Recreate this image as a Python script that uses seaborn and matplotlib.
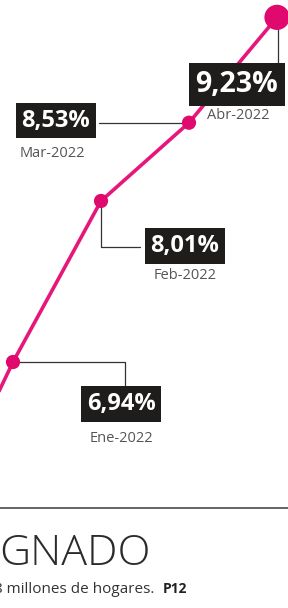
import numpy as np
import pandas as pd
import matplotlib.pyplot as plt
import seaborn as sns

# Data (percent), Dic-2021 point lies off the visible crop
months = ["Dic-2021", "Ene-2022", "Feb-2022", "Mar-2022", "Abr-2022"]
values = [5.72, 6.94, 8.01, 8.53, 9.23]
labels = ["", "6,94%", "8,01%", "8,53%", "9,23%"]

df = pd.DataFrame({"idx": np.arange(len(months)) - 1, "mes": months, "valor": values})

sns.set_style("white")
plt.rcParams["font.family"] = ["Open Sans", "DejaVu Sans"]

PINK = "#e6177b"
DOT = "#e00a6e"
BOX = "#1f1c1c"
LINE = "#333333"

fig = plt.figure(figsize=(2.88, 6.08), dpi=100)
ax = fig.add_axes([0, 0, 1, 1])
ax.set_xlim(-13 / 88, 275 / 88)
ax.set_ylim(6.94 - 246 / 150.5, 6.94 + 362 / 150.5)
ax.axis("off")

sns.lineplot(data=df, x="idx", y="valor", color=PINK, linewidth=2.6, ax=ax,
             zorder=2, clip_on=True)
sns.scatterplot(data=df.iloc[:-1], x="idx", y="valor", color=DOT, s=105,
                edgecolor="none", ax=ax, zorder=3)
sns.scatterplot(data=df.iloc[-1:], x="idx", y="valor", color=DOT, s=330,
                edgecolor="none", ax=ax, zorder=3)


def off(x, y, dx, dy):
    # pixel offset -> data coords
    px = ax.transData.transform((x, y)) + np.array([dx, dy])
    return ax.transData.inverted().transform(px)


# label layout: box offset, date offset, connector path (pixel offsets), font size
layout = {
    "Ene-2022": ((108, -42), (108, -76), [(0, 0), (112, 0), (112, -29)], 17),
    "Feb-2022": ((84, -45), (84, -75), [(0, 0), (0, -46), (39, -46)], 17),
    "Mar-2022": ((-133, 2), (-137, -31), [(0, 0), (-90, 0)], 17),
    "Abr-2022": ((-40, -67), (-39, -98), [(1, 0), (1, -52)], 20.5),
}

for _, row in df.iterrows():
    if row["mes"] not in layout:
        continue
    (bx, by), (dx, dy), path, fs = layout[row["mes"]]
    x, y = row["idx"], row["valor"]
    pts = np.array([off(x, y, a, b) for a, b in path])
    ax.plot(pts[:, 0], pts[:, 1], color=LINE, linewidth=0.9, zorder=1)
    ax.annotate(labels[months.index(row["mes"])], (x, y), xytext=(bx, by),
                textcoords="offset pixels", ha="center", va="center",
                color="white", fontsize=fs, fontweight="bold", zorder=4,
                bbox=dict(boxstyle="square,pad=0.24", fc=BOX, ec="none"))
    ax.annotate(row["mes"], (x, y), xytext=(dx, dy), textcoords="offset pixels",
                ha="center", va="center", color="#555555", fontsize=10.5, zorder=4)

# bottom rule and headline
fig.add_artist(plt.Line2D([0, 1], [1 - 508 / 608] * 2, color="#3a3a3a", linewidth=1.1))
fig.text(-1 / 288, 1 - 565 / 608, "GNADO", fontsize=31, fontweight="light",
         color="#2b2b2b", va="baseline", ha="left")
fig.text(-6 / 288, 1 - 593 / 608, "8 millones de hogares.", fontsize=11,
         color="#333333", va="baseline", ha="left")
fig.text(163 / 288, 1 - 593 / 608, "P12", fontsize=10, fontweight="bold",
         color="#222222", va="baseline", ha="left")

fig.savefig("out.png", dpi=100)
